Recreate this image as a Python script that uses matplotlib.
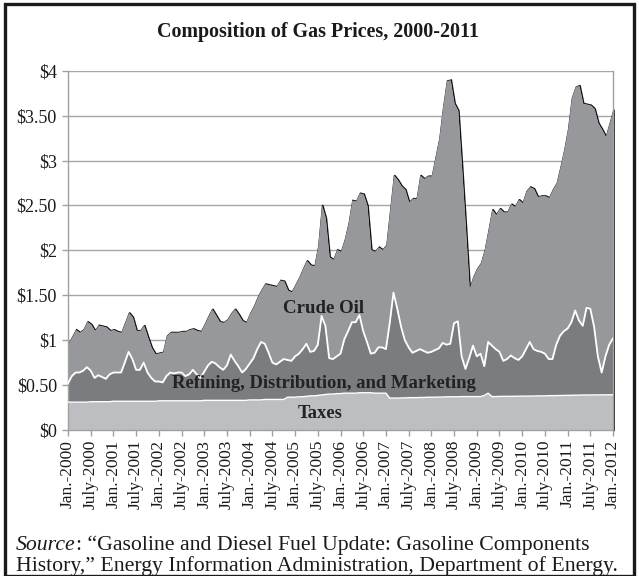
import matplotlib
matplotlib.use("Agg")
import matplotlib.pyplot as plt
import matplotlib.transforms as mtransforms
from matplotlib.patches import Rectangle
import numpy as np

# ---------------- data (monthly, Jan 2000 .. Jan 2012) ----------------
years = list(range(2000, 2013))
tick_labels = []
for y in years:
    tick_labels.append(f"Jan.-{y}")
    if y < 2012:
        tick_labels.append(f"July-{y}")

# Taxes ($/gal)
taxes = [0.31, 0.31, 0.31, 0.31, 0.31, 0.31, 0.315, 0.315, 0.315, 0.315, 0.315, 0.315,
         0.32, 0.32, 0.32, 0.32, 0.32, 0.32, 0.32, 0.32, 0.32, 0.32, 0.32, 0.32,
         0.325, 0.325, 0.325, 0.325, 0.325, 0.325, 0.325, 0.325, 0.325, 0.325, 0.325, 0.325,
         0.33, 0.33, 0.33, 0.33, 0.33, 0.33, 0.33, 0.33, 0.33, 0.33, 0.33, 0.33,
         0.335, 0.335, 0.335, 0.335, 0.34, 0.34, 0.34, 0.34, 0.34, 0.34, 0.365, 0.365,
         0.365, 0.37, 0.37, 0.375, 0.38, 0.38, 0.385, 0.39, 0.395, 0.40, 0.40, 0.405,
         0.405, 0.41, 0.41, 0.41, 0.41, 0.415, 0.415, 0.415, 0.415, 0.41, 0.41, 0.41,
         0.41, 0.355, 0.355, 0.355, 0.357, 0.357, 0.36, 0.36, 0.36, 0.362, 0.362, 0.365,
         0.365, 0.365, 0.367, 0.367, 0.37, 0.37, 0.37, 0.37, 0.372, 0.372, 0.372, 0.372,
         0.372, 0.372, 0.385, 0.41, 0.372, 0.372, 0.374, 0.374, 0.375, 0.375, 0.376, 0.376,
         0.377, 0.377, 0.378, 0.378, 0.38, 0.38, 0.38, 0.382, 0.382, 0.383, 0.384, 0.385,
         0.386, 0.387, 0.388, 0.389, 0.39, 0.39, 0.39, 0.39, 0.391, 0.391, 0.392, 0.392,
         0.392]

# Taxes + Refining, Distribution and Marketing ($/gal)
taxes_and_refining = [
    0.52, 0.60, 0.64, 0.64, 0.66, 0.70, 0.66, 0.58, 0.61, 0.59, 0.57, 0.62,
    0.64, 0.64, 0.64, 0.75, 0.87, 0.79, 0.67, 0.67, 0.75, 0.64, 0.58, 0.54,
    0.54, 0.53, 0.60, 0.64, 0.63, 0.64, 0.64, 0.60, 0.62, 0.67, 0.62, 0.58,
    0.65, 0.72, 0.76, 0.74, 0.70, 0.67, 0.72, 0.84, 0.77, 0.71, 0.64, 0.68,
    0.74, 0.80, 0.90, 0.98, 0.96, 0.86, 0.75, 0.73, 0.76, 0.79, 0.78, 0.77,
    0.82, 0.85, 0.90, 0.96, 0.87, 0.88, 0.95, 1.27, 1.16, 0.80, 0.79, 0.82,
    0.85, 1.01, 1.10, 1.20, 1.20, 1.28, 1.10, 0.98, 0.85, 0.86, 0.92, 0.92,
    0.90, 1.19, 1.53, 1.35, 1.15, 1.00, 0.92, 0.86, 0.88, 0.90, 0.88, 0.86,
    0.87, 0.89, 0.91, 0.97, 0.95, 0.96, 1.19, 1.21, 0.82, 0.68, 0.80, 0.94,
    0.82, 0.85, 0.71, 0.98, 0.94, 0.90, 0.87, 0.77, 0.79, 0.83, 0.80, 0.78,
    0.82, 0.90, 0.98, 0.90, 0.88, 0.87, 0.85, 0.79, 0.79, 0.95, 1.05, 1.10,
    1.13, 1.20, 1.33, 1.22, 1.16, 1.36, 1.35, 1.15, 0.82, 0.64, 0.82, 0.95,
    1.02]

# Total retail price = taxes + refining + crude oil ($/gal)
total_price = [
    0.96, 1.04, 1.12, 1.09, 1.12, 1.21, 1.18, 1.11, 1.17, 1.16, 1.15, 1.11,
    1.12, 1.10, 1.09, 1.20, 1.31, 1.26, 1.11, 1.11, 1.17, 1.04, 0.92, 0.85,
    0.86, 0.87, 1.05, 1.09, 1.09, 1.09, 1.10, 1.10, 1.12, 1.13, 1.11, 1.10,
    1.18, 1.27, 1.35, 1.28, 1.21, 1.20, 1.23, 1.30, 1.35, 1.29, 1.22, 1.20,
    1.30, 1.38, 1.48, 1.56, 1.63, 1.62, 1.61, 1.60, 1.67, 1.66, 1.56, 1.54,
    1.62, 1.70, 1.80, 1.89, 1.84, 1.83, 2.05, 2.51, 2.36, 1.93, 1.90, 2.01,
    1.99, 2.12, 2.30, 2.56, 2.55, 2.64, 2.63, 2.50, 2.01, 1.99, 2.04, 2.01,
    2.06, 2.45, 2.84, 2.79, 2.72, 2.68, 2.54, 2.58, 2.58, 2.84, 2.80, 2.83,
    2.83, 3.04, 3.25, 3.60, 3.89, 3.90, 3.64, 3.56, 2.93, 2.27, 1.58, 1.71,
    1.80, 1.86, 2.01, 2.23, 2.46, 2.40, 2.47, 2.43, 2.43, 2.52, 2.49, 2.57,
    2.53, 2.66, 2.71, 2.69, 2.60, 2.61, 2.61, 2.59, 2.68, 2.75, 2.93, 3.12,
    3.35, 3.70, 3.82, 3.84, 3.64, 3.63, 3.62, 3.58, 3.42, 3.35, 3.27, 3.42,
    3.57]

y_ticks = [0, 0.5, 1, 1.5, 2, 2.5, 3, 3.5, 4]
y_tick_labels = ["$0", "$0.50", "$1", "$1.50", "$2", "$2.50", "$3", "$3.50", "$4"]

# ---------------- figure ----------------
plt.rcParams['font.family'] = ['Liberation Serif', 'DejaVu Serif']

W, H = 639, 576
fig = plt.figure(figsize=(W / 100, H / 100), dpi=100)
fig.patch.set_facecolor('white')

# outer frame
fig.patches.append(Rectangle((5 / W, 0.0), (634 - 5) / W, (H - 10) / H + 0.01,
                             transform=fig.transFigure, fill=False,
                             edgecolor='#1a1a1a', linewidth=2.4, zorder=0))

ax = fig.add_axes([68 / W, 1 - 430 / H, (613 - 68) / W, (430 - 70.7) / H])

x = np.arange(len(total_price))
tx = np.array(taxes)
mid = np.array(taxes_and_refining)
top = np.array(total_price)

c_tax = '#bdbec1'
c_ref = '#7b7c80'
c_crude = '#97989c'

ax.fill_between(x, 0, tx, color=c_tax, lw=0, zorder=2)
ax.fill_between(x, tx, mid, color=c_ref, lw=0, zorder=2)
ax.fill_between(x, mid, top, color=c_crude, lw=0, zorder=2)

# dark shadow edge along the top of the crude oil area
xs = np.append(x, x[-1])
ys = np.append(top, 0)
shadow = mtransforms.offset_copy(ax.transData, fig=fig, x=1.1, y=-0.4, units='dots')
ax.plot(xs, ys, color='#111111', lw=1.1, transform=shadow, zorder=1.9,
        solid_joinstyle='miter', clip_on=False)

ax.plot(x, mid, color='white', lw=1.3, zorder=3)
ax.plot(x, tx, color='white', lw=1.0, zorder=3)

ax.set_xlim(0, len(total_price) - 1)
ax.set_ylim(0, 4)
ax.set_axisbelow(True)
ax.yaxis.grid(True, color='#a6a6a6', lw=1.0)
ax.set_yticks(y_ticks)
ax.set_yticklabels(y_tick_labels, fontsize=13, color='#1a1a1a')
ax.set_xticks(np.arange(0, len(total_price), 6))
ax.set_xticklabels(tick_labels, rotation=90, fontsize=12.5, color='#1a1a1a')
ax.tick_params(axis='both', color='#a0a0a0', length=4, width=1.0)
ax.tick_params(axis='y', pad=4)
ax.tick_params(axis='x', pad=3)
for s in ['left', 'bottom', 'right']:
    ax.spines[s].set_color('#a0a0a0')
    ax.spines[s].set_linewidth(1.0)
ax.spines['top'].set_visible(False)

# in-chart labels
ax.text(67.5, (430 - 308) / 90, "Crude Oil", ha='center', va='center',
        fontsize=13.6, fontweight='bold', color='#222222', zorder=4)
ax.text(67.5, (430 - 383) / 90, "Refining, Distribution, and Marketing", ha='center',
        va='center', fontsize=13.4, fontweight='bold', color='#222222', zorder=4)
ax.text(66.5, (430 - 413) / 90, "Taxes", ha='center', va='center',
        fontsize=13.4, fontweight='bold', color='#222222', zorder=4)

# title
fig.text(318 / W, 1 - 32 / H, "Composition of Gas Prices, 2000-2011", ha='center',
         va='center', fontsize=14.4, fontweight='bold', color='#1a1a1a')

# source note
fs = 15.7
t1 = fig.text(16 / W, 1 - 545 / H, "Source", style='italic', fontsize=fs,
              ha='left', va='center', color='#1a1a1a')
fig.canvas.draw()
bb = t1.get_window_extent(renderer=fig.canvas.get_renderer())
fig.text(bb.x1 / W, 1 - 545 / H,
         ": \u201cGasoline and Diesel Fuel Update: Gasoline Components",
         fontsize=fs, ha='left', va='center', color='#1a1a1a')
fig.text(16 / W, 1 - 566 / H,
         "History,\u201d Energy Information Administration, Department of Energy.",
         fontsize=fs, ha='left', va='center', color='#1a1a1a')

fig.savefig("out.png", dpi=100, facecolor='white')
